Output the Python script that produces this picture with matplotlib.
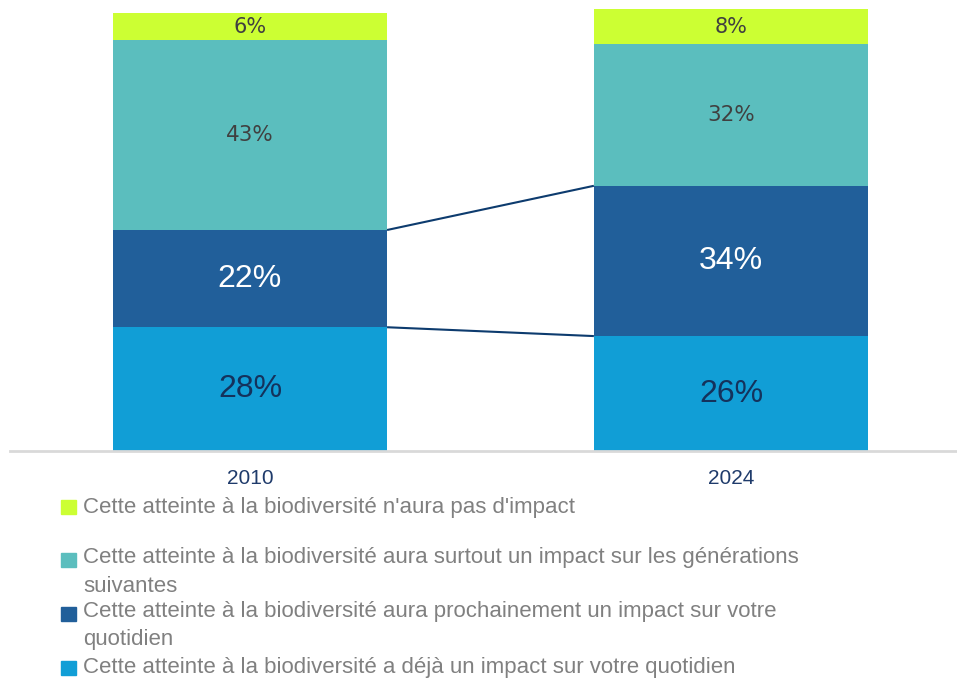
import matplotlib
matplotlib.use("Agg")
import matplotlib.pyplot as plt
from matplotlib.patches import Rectangle

years = ["2010", "2024"]
deja = [28, 26]
prochainement = [22, 34]
generations = [43, 32]
pas_impact = [6, 8]

series_labels = [
    "Cette atteinte à la biodiversité a déjà un impact sur votre quotidien",
    "Cette atteinte à la biodiversité aura prochainement un impact sur votre\nquotidien",
    "Cette atteinte à la biodiversité aura surtout un impact sur les générations\nsuivantes",
    "Cette atteinte à la biodiversité n'aura pas d'impact",
]
colors = ["#119ED6", "#215F9A", "#5BBEBE", "#CCFF33"]
label_colors = ["#14325C", "white", "#404040", "#404040"]
label_fonts = ["Liberation Sans", "Liberation Sans", "DejaVu Sans", "DejaVu Sans"]
label_sizes = [23, 23, 15.5, 15]

W, H = 957, 679
fig = plt.figure(figsize=(W / 100, H / 100), dpi=100)
ax = fig.add_axes([10 / W, 1 - 451 / H, (957 - 10) / W, (451 - 9) / H])
ax.set_xlim(-0.499, 1.47)
ax.set_ylim(0, 100)
ax.axis("off")

x = [0, 1]
width = 0.57
series = [deja, prochainement, generations, pas_impact]
bottoms = [0, 0]
cum = []
for vals, c, lc, lf, ls in zip(series, colors, label_colors, label_fonts, label_sizes):
    ax.bar(x, vals, width=width, bottom=bottoms, color=c, edgecolor="none")
    for xi, v, b in zip(x, vals, bottoms):
        ax.text(xi, b + v / 2, f"{v}%", ha="center", va="center",
                color=lc, fontsize=ls, family=lf)
    bottoms = [b + v for b, v in zip(bottoms, vals)]
    cum.append(list(bottoms))

# connector lines for the first two series
for k in range(2):
    ax.plot([x[0] + width / 2, x[1] - width / 2], [cum[k][0], cum[k][1]],
            color="#0D3B6E", lw=1.5, solid_capstyle="butt")

# baseline axis
ax.axhline(0, color="#D9D9D9", lw=2, clip_on=False)

for xi, yr in zip(x, years):
    ax.text(xi, -6.3, yr, ha="center", va="center", fontsize=15,
            color="#1F3B6B", family="Liberation Sans")

# legend (manual, reverse order)
leg_rows = [(3, 507, 507), (2, 560, 572), (1, 614, 625), (0, 668, 667)]
for idx, sq_y, txt_y in leg_rows:
    fig.patches.append(Rectangle((61 / W, 1 - (sq_y + 7) / H), 15 / W, 14 / H,
                                 transform=fig.transFigure, color=colors[idx]))
    lines = series_labels[idx].split("\n")
    for j, ln in enumerate(lines):
        y = txt_y - (14 if len(lines) > 1 else 0) + j * 28
        fig.text(83 / W, 1 - y / H, ln, ha="left", va="center",
                 fontsize=16, color="#808080", family="Liberation Sans")

fig.savefig("out.png", dpi=100)
